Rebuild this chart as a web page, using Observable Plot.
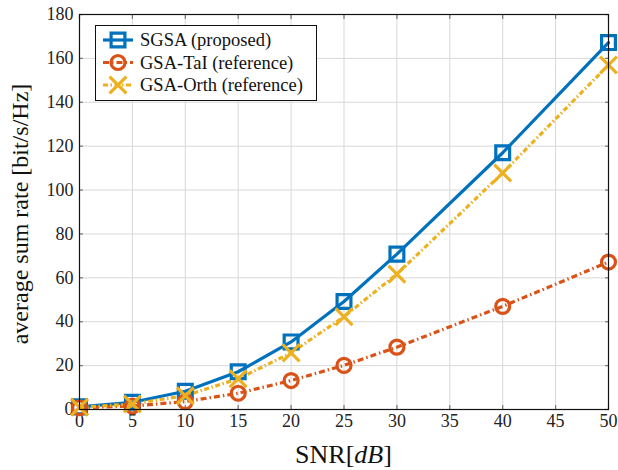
<!DOCTYPE html>
<html>
<head>
<meta charset="utf-8">
<script src="https://cdn.jsdelivr.net/npm/d3@7"></script>
<script src="https://cdn.jsdelivr.net/npm/@observablehq/plot@0.6"></script>
<style>
  html, body { margin: 0; padding: 0; background: #fff; }
  svg { font-family: "Liberation Serif", "DejaVu Serif", serif; }
</style>
</head>
<body>
<div id="chart"></div>
<script>
const snr = [0, 5, 10, 15, 20, 25, 30, 40, 50];
const sgsa = [1.2, 3.3, 8.3, 17.2, 30.8, 49.2, 70.8, 117, 167.2];
const gsaTaI = [0.8, 1.6, 3.6, 7.4, 13.2, 20.1, 28.4, 47, 67.2];
const gsaOrth = [1.0, 2.5, 6.3, 14, 25.8, 42.3, 61.7, 107.8, 157];
const seriesNames = ["SGSA (proposed)", "GSA-TaI (reference)", "GSA-Orth (reference)"];
const colors = ["#0072BD", "#D95319", "#EDB120"];
const xTicks = [0, 5, 10, 15, 20, 25, 30, 35, 40, 45, 50];
const yTicks = [0, 20, 40, 60, 80, 100, 120, 140, 160, 180];

const rows = (vals, name) => snr.map((x, i) => ({x, y: vals[i], name}));
const dA = rows(sgsa, seriesNames[0]);
const dB = rows(gsaTaI, seriesNames[1]);
const dC = rows(gsaOrth, seriesNames[2]);

const styles = [
  {dash: null, symbol: "square", r: 7.8},
  {dash: "6,3,1.5,3", symbol: "circle", r: 7},
  {dash: "5,2.5,1.5,2.5", symbol: "times", r: 7.7}
];

const tickStyle = {stroke: "#777", strokeWidth: 1.2, tickSize: -4, tickFormat: () => "", label: null};

const chart = Plot.plot({
  width: 618,
  height: 470,
  marginLeft: 79,
  marginRight: 10,
  marginTop: 14,
  marginBottom: 61,
  style: {fontFamily: "'Liberation Serif', 'DejaVu Serif', serif", background: "#fff"},
  x: {domain: [0, 50]},
  y: {domain: [0, 180]},
  marks: [
    Plot.gridX(xTicks, {stroke: "#d8d8d8", strokeOpacity: 1, strokeWidth: 1}),
    Plot.gridY(yTicks, {stroke: "#d8d8d8", strokeOpacity: 1, strokeWidth: 1}),
    Plot.axisX(xTicks, {anchor: "bottom", ...tickStyle}),
    Plot.axisX(xTicks, {anchor: "top", ...tickStyle}),
    Plot.axisY(yTicks, {anchor: "left", ...tickStyle}),
    Plot.axisY(yTicks, {anchor: "right", ...tickStyle}),
    Plot.axisX(xTicks, {tickSize: 0, tickPadding: 5, fontSize: 18, label: null, fill: "#222"}),
    Plot.axisY(yTicks, {tickSize: 0, tickPadding: 6, fontSize: 18, label: null, fill: "#222"}),
    Plot.lineY(dA, {x: "x", y: "y", stroke: colors[0], strokeWidth: 3.2}),
    Plot.lineY(dB, {x: "x", y: "y", stroke: colors[1], strokeWidth: 3.2, strokeDasharray: styles[1].dash, strokeLinecap: "butt"}),
    Plot.lineY(dC, {x: "x", y: "y", stroke: colors[2], strokeWidth: 3.2, strokeDasharray: styles[2].dash, strokeLinecap: "butt"}),
    Plot.dot(dA, {x: "x", y: "y", symbol: "square", r: styles[0].r, stroke: colors[0], strokeWidth: 3.2, fill: "none"}),
    Plot.dot(dB, {x: "x", y: "y", symbol: "circle", r: styles[1].r, stroke: colors[1], strokeWidth: 3.2, fill: "none"}),
    Plot.dot(dC, {x: "x", y: "y", symbol: "times", r: styles[2].r, stroke: colors[2], strokeWidth: 3.2, fill: "none"}),
    Plot.frame({stroke: "#111", strokeWidth: 1.2})
  ]
});
document.getElementById("chart").appendChild(chart);

// Axis labels and legend
const svg = d3.select(chart);
const plotLeft = 79, plotRight = 618 - 10;

const xl = svg.append("text")
  .attr("x", (plotLeft + plotRight) / 2).attr("y", 463)
  .attr("text-anchor", "middle").attr("font-size", 26).attr("fill", "#111");
xl.append("tspan").text("SNR[");
xl.append("tspan").attr("font-style", "italic").text("dB");
xl.append("tspan").text("]");

svg.append("text")
  .attr("transform", `translate(28,214) rotate(-90)`)
  .attr("text-anchor", "middle").attr("font-size", 24).attr("fill", "#111")
  .text("average sum rate [bit/s/Hz]");

const lg = svg.append("g");
lg.append("rect").attr("x", 95.5).attr("y", 25.5).attr("width", 221).attr("height", 75)
  .attr("fill", "#fff").attr("stroke", "#111").attr("stroke-width", 1);
seriesNames.forEach((name, i) => {
  const cy = 40 + i * 22.5;
  lg.append("line").attr("x1", 103).attr("x2", 133).attr("y1", cy).attr("y2", cy)
    .attr("stroke", colors[i]).attr("stroke-width", 3.2)
    .attr("stroke-linecap", "butt")
    .attr("stroke-dasharray", styles[i].dash);
  const size = Math.PI * styles[i].r * styles[i].r;
  const sym = {square: d3.symbolSquare, circle: d3.symbolCircle, times: d3.symbolTimes}[styles[i].symbol];
  lg.append("path").attr("d", d3.symbol(sym, size)())
    .attr("transform", `translate(118,${cy})`)
    .attr("fill", "none").attr("stroke", colors[i]).attr("stroke-width", 3.2);
  lg.append("text").attr("x", 140).attr("y", cy).attr("dy", "0.35em")
    .attr("text-anchor", "start")
    .attr("font-size", 18.5).attr("fill", "#111").text(name);
});
</script>
</body>
</html>
